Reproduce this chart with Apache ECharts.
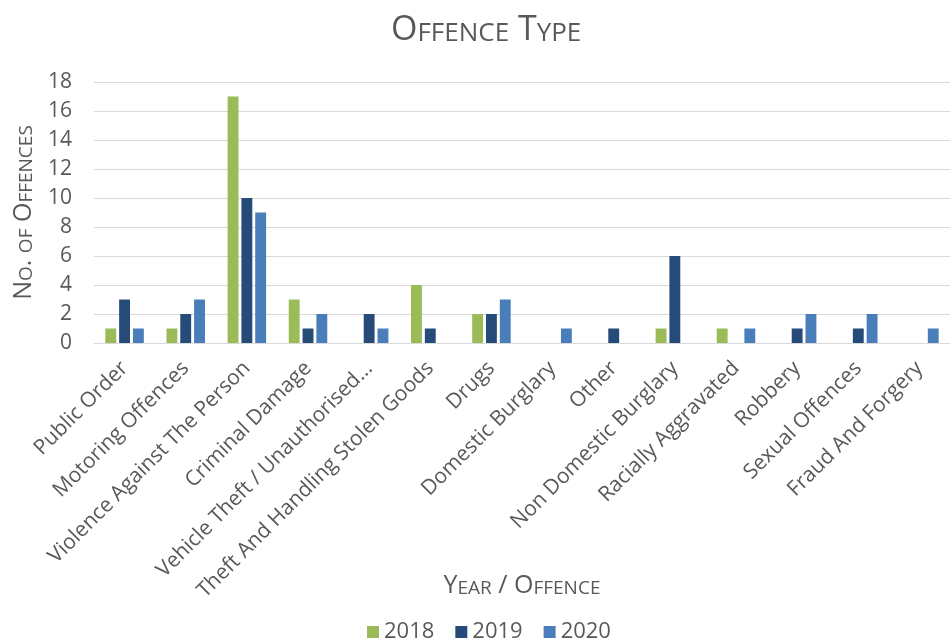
<!DOCTYPE html>
<html>
<head>
<meta charset="utf-8">
<script src="https://cdn.jsdelivr.net/npm/echarts@6/dist/echarts.min.js"></script>
<style>html,body{margin:0;padding:0;background:#fff;overflow:hidden}#c{width:950px;height:644px}</style>
</head>
<body>
<div id="c"></div>
<script>
const categories = ["Public Order","Motoring Offences","Violence Against The Person","Criminal Damage","Vehicle Theft / Unauthorised...","Theft And Handling Stolen Goods","Drugs","Domestic Burglary","Other","Non Domestic Burglary","Racially Aggravated","Robbery","Sexual Offences","Fraud And Forgery"];
const seriesNames = ["2018","2019","2020"];
const values2018 = [1,1,17,3,0,4,2,0,0,1,1,0,0,0];
const values2019 = [3,2,10,1,2,1,2,0,1,6,0,1,1,0];
const values2020 = [1,3,9,2,1,0,3,1,0,0,1,2,2,1];
const yTicks = {min:0,max:18,interval:2};

const FONT = '"Open Sans", "Noto Sans", sans-serif';
const GREY = '#595959';
const colors = ['#9BBB59','#264B78','#4A7EBB'];

const chart = echarts.init(document.getElementById('c'), null, {renderer:'canvas'});
const bigS = {fontSize:25, color:GREY, fontFamily:FONT, fontWeight:'normal', verticalAlign:'bottom'};
const smlS = {fontSize:19, color:GREY, fontFamily:FONT, fontWeight:'normal', verticalAlign:'bottom'};
const data = [values2018, values2019, values2020];
chart.setOption({
  animation:false,
  backgroundColor:'#fff',
  color: colors,
  title:{
    text:'{b|O}{s|FFENCE}{b| T}{s|YPE}',
    left:386, top:8,
    textStyle:{fontWeight:'normal',rich:{b:{fontSize:34,color:GREY,fontFamily:FONT,fontWeight:'normal',verticalAlign:'bottom'},s:{fontSize:26,color:GREY,fontFamily:FONT,fontWeight:'normal',verticalAlign:'bottom'}}}
  },
  legend:{
    data:seriesNames, bottom:-4, left:362, icon:'rect', itemWidth:12, itemHeight:12, itemGap:21,
    textStyle:{fontSize:22,color:GREY,fontFamily:FONT}
  },
  grid:{left:94,right:-12,top:82,bottom:301,containLabel:false},
  xAxis:{
    type:'category', data:categories,
    name:'{b|Y}{s|EAR}{b| / O}{s|FFENCE}',
    nameLocation:'middle', nameGap:230, nameMoveOverlap:false,
    nameTextStyle:{rich:{b:bigS,s:smlS}},
    axisLine:{lineStyle:{color:'#D9D9D9'}},
    axisTick:{show:false},
    axisLabel:{rotate:45, interval:0, fontSize:21, color:GREY, fontFamily:FONT, margin:22}
  },
  yAxis:{
    type:'value', min:yTicks.min, max:yTicks.max, interval:yTicks.interval,
    name:'{b|N}{s|O}{b|. }{s|OF}{b| O}{s|FFENCES}',
    nameLocation:'middle', nameGap:58, nameRotate:90, nameMoveOverlap:false,
    nameTextStyle:{rich:{b:bigS,s:smlS}},
    axisLine:{show:false}, axisTick:{show:false},
    splitLine:{lineStyle:{color:'#D9D9D9',width:1}},
    axisLabel:{fontSize:21,color:GREY,fontFamily:FONT,margin:22}
  },
  series: seriesNames.map((n,i)=>({
    name:n, type:'bar', data:data[i],
    barGap:'27%', barCategoryGap:'37%',
    itemStyle:{color:colors[i]}
  }))
});
</script>
</body>
</html>
